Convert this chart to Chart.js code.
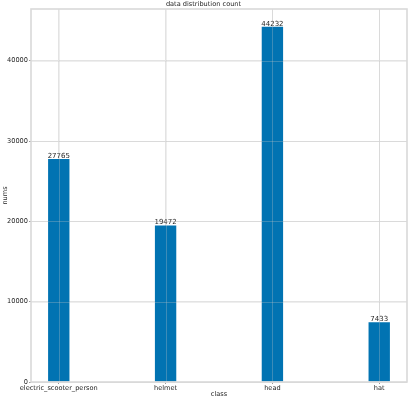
<!DOCTYPE html>
<html>
<head>
<meta charset="utf-8">
<script src="https://cdn.jsdelivr.net/npm/chart.js@4/dist/chart.umd.min.js"></script>
<style>
  html, body { margin: 0; padding: 0; background: #fff; }
  #wrap { width: 409px; height: 399px; }
</style>
</head>
<body>
<div id="wrap"><canvas id="chart" width="409" height="399"></canvas></div>
<script>
const classes = ['electric_scooter_person', 'helmet', 'head', 'hat'];
const counts = [27765, 19472, 44232, 7433];
const yTicks = [0, 10000, 20000, 30000, 40000];

const FONT = 'DejaVu Sans';
const FS = 6.6;
const gridColor = '#e3e3e3';

// value labels on top of each bar
const barLabels = {
  id: 'barLabels',
  afterDatasetsDraw(chart) {
    const ctx = chart.ctx;
    const meta = chart.getDatasetMeta(0);
    ctx.save();
    ctx.font = '7px ' + FONT;
    ctx.fillStyle = '#262626';
    ctx.textAlign = 'center';
    ctx.textBaseline = 'bottom';
    meta.data.forEach((bar, i) => {
      ctx.fillText(String(counts[i]), bar.x, bar.y + 0.5);
    });
    ctx.restore();
  }
};

// grid on top of bars + frame around plot area
const gridOver = {
  id: 'gridOver',
  afterDatasetsDraw(chart) {
    const ctx = chart.ctx;
    const a = chart.chartArea;
    const xs = chart.scales.x;
    const ys = chart.scales.y;
    ctx.save();
    ctx.strokeStyle = 'rgba(200,200,200,0.3)';
    ctx.lineWidth = 1;
    classes.forEach((_, i) => {
      const px = Math.round(xs.getPixelForValue(i)) + 0.5;
      ctx.beginPath();
      ctx.moveTo(px, a.top);
      ctx.lineTo(px, a.bottom);
      ctx.stroke();
    });
    yTicks.forEach(v => {
      const py = Math.round(ys.getPixelForValue(v)) + 0.5;
      ctx.beginPath();
      ctx.moveTo(a.left, py);
      ctx.lineTo(a.right, py);
      ctx.stroke();
    });
    ctx.strokeStyle = '#d9d9d9';
    ctx.lineWidth = 1.6;
    ctx.strokeRect(a.left, a.top, a.right - a.left, a.bottom - a.top);
    ctx.restore();
  }
};

new Chart(document.getElementById('chart'), {
  type: 'bar',
  data: {
    datasets: [{
      data: counts.map((v, i) => ({ x: i, y: v })),
      backgroundColor: '#0173b2',
      borderWidth: 0,
      barPercentage: 0.2,
      categoryPercentage: 1
    }]
  },
  options: {
    responsive: false,
    animation: false,
    layout: { padding: { left: 0, right: 2, top: 0, bottom: 0 } },
    plugins: {
      legend: { display: false },
      tooltip: { enabled: false },
      title: {
        display: true,
        text: 'data distribution count',
        color: '#262626',
        font: { family: FONT, size: FS, weight: 'normal', lineHeight: 1 },
        padding: { top: 1, bottom: 1.4 }
      }
    },
    scales: {
      x: {
        type: 'linear',
        offset: false,
        min: -0.26,
        max: 3.26,
        afterBuildTicks: s => { s.ticks = classes.map((_, i) => ({ value: i })); },
        afterFit: s => { s.height = 17; },
        grid: { color: gridColor, tickLength: 2, tickColor: '#999', offset: false },
        border: { display: false },
        ticks: {
          autoSkip: false,
          maxRotation: 0,
          padding: 0.5,
          color: '#262626',
          font: { family: FONT, size: FS },
          callback: v => classes[v]
        },
        title: {
          display: true,
          text: 'class',
          color: '#262626',
          font: { family: FONT, size: FS },
          padding: { top: 0, bottom: 0.5 }
        }
      },
      y: {
        min: 0,
        max: 46444,
        afterBuildTicks: s => { s.ticks = yTicks.map(v => ({ value: v })); },
        afterFit: s => { s.width = 31; },
        grid: { color: gridColor, tickLength: 2, tickColor: '#999' },
        border: { display: false },
        ticks: {
          padding: 1,
          color: '#262626',
          font: { family: FONT, size: FS },
          callback: v => String(v)
        },
        title: {
          display: true,
          text: 'nums',
          color: '#262626',
          font: { family: FONT, size: FS },
          padding: { top: 1, bottom: 0 }
        }
      }
    }
  },
  plugins: [barLabels, gridOver]
});
</script>
</body>
</html>
